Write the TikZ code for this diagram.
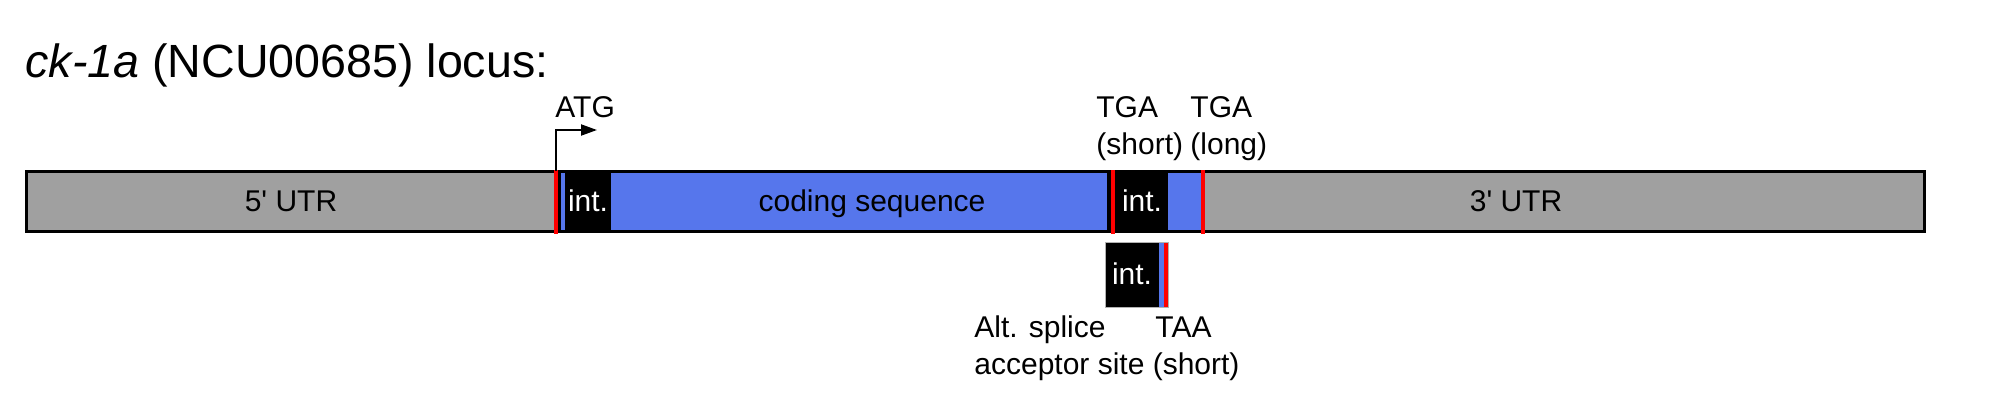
\documentclass[tikz,border=0pt]{standalone}
\usepackage{fontspec}
\setmainfont{Liberation Sans}
\usetikzlibrary{arrows.meta}
\definecolor{utrgray}{RGB}{160,160,160}
\definecolor{cdsblue}{RGB}{86,118,236}
\definecolor{stopred}{RGB}{255,0,0}
\tikzset{
  x=0.5pt, y=-0.5pt,
  lbl/.style={inner sep=0pt, anchor=base west, font=\fontsize{15}{17}\selectfont},
  lblc/.style={inner sep=0pt, anchor=base, font=\fontsize{15}{17}\selectfont},
  intlbl/.style={inner sep=0pt, anchor=base, text=white, font=\fontsize{15}{17}\selectfont},
  redmark/.style={fill=stopred},
  startarrow/.style={line width=1pt, -{Triangle[length=8pt,width=5.5pt]}},
}
\begin{document}
\begin{tikzpicture}
\useasboundingbox (0,0) rectangle (2000,411);
% title
\node[inner sep=0pt, anchor=base west, font=\fontsize{23.3}{27}\selectfont] (title) at (25,78) {\textit{ck-1a} (NCU00685) locus:};
% main bar fills
\fill[utrgray] (26.5,172) rectangle (554,231.5);
\fill[black] (558,172) rectangle (611,231.5);
\fill[cdsblue] (561,172) rectangle (565,231.5);
\fill[cdsblue] (611,172) rectangle (1107,231.5);
\fill[black] (1107,172) rectangle (1168,231.5);
\fill[cdsblue] (1168,172) rectangle (1201,231.5);
\fill[utrgray] (1205,172) rectangle (1924.5,231.5);
% outline
\draw[line width=1.5pt] (26.5,172) rectangle (1924.5,231.5);
% red marks
\fill[redmark] (554,170) rectangle (558,234);
\fill[redmark] (1111,170) rectangle (1115,234);
\fill[redmark] (1201,170) rectangle (1205,234);
% bar labels
\node[lblc] (utr5) at (291,212) {5\textquotesingle{} UTR};
\node[intlbl] (int1) at (588,212) {int.};
\node[lblc] (cds) at (872,212) {coding sequence};
\node[intlbl] (int2) at (1142,212) {int.};
\node[lblc] (utr3) at (1516,212) {3\textquotesingle{} UTR};
% ATG arrow
\coordinate (atgstart) at (555.5,171);
\coordinate (atgtip) at (597,130);
\draw[startarrow] (atgstart) |- (atgtip);
\node[lbl] (atg) at (555,118) {ATG};
% stop labels
\node[lbl, align=left] (tgashort) at (1096,155) {TGA\\[1.5pt](short)};
\node[lbl, align=left] (tgalong) at (1190,155) {TGA\\[1.5pt](long)};
% alternative box
\fill[black] (1105,242) rectangle (1159,307);
\fill[cdsblue] (1159,242) rectangle (1164,307);
\fill[redmark] (1164,242) rectangle (1168,307);
\draw[gray!60, line width=0.5pt] (1105,242) rectangle (1168,307);
\node[intlbl] (int3) at (1132,285) {int.};
% lower labels
\node[lbl] (alt) at (974,337) {Alt. splice};
\node[lbl] (taa) at (1155,337) {TAA};
\node[lbl] (acc) at (974,374) {acceptor site (short)};
\end{tikzpicture}
\end{document}
